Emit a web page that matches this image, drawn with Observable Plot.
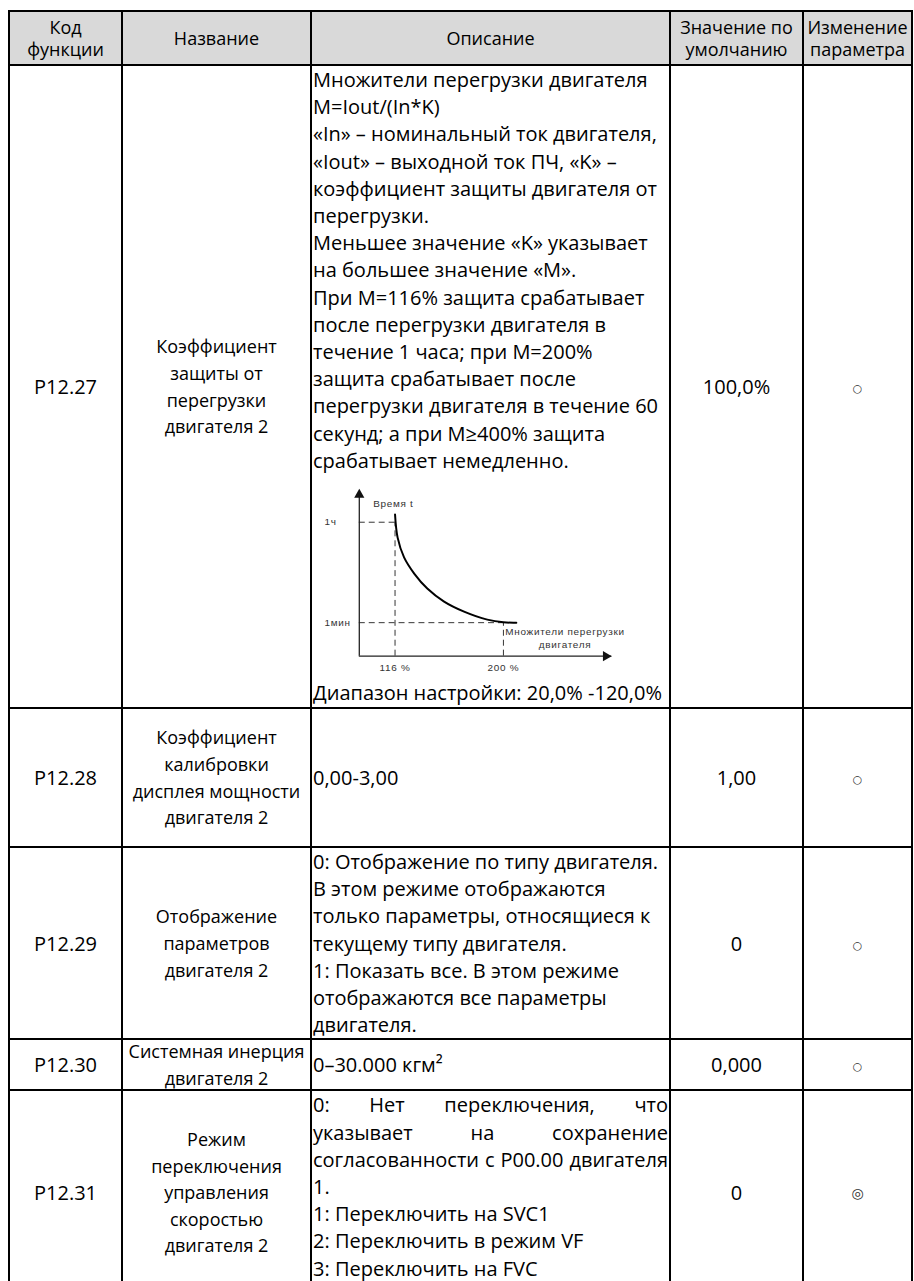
<!DOCTYPE html>
<html lang="ru"><head><meta charset="utf-8">
<script src="https://cdn.jsdelivr.net/npm/d3@7"></script>
<script src="https://cdn.jsdelivr.net/npm/@observablehq/plot@0.6"></script>
<style>
html,body{margin:0;padding:0;background:#fff;}
body{width:914px;height:1281px;overflow:hidden;position:relative;font-family:"Open Sans",sans-serif;color:#000;}
table{position:absolute;left:8px;top:10px;border-collapse:collapse;table-layout:fixed;width:905px;}
td,th{border:2px solid #000;padding:0;font-size:20px;font-weight:400;overflow:visible;}
th{background:#d9d9d9;font-size:18px;line-height:22px;text-align:center;vertical-align:middle;}
td{line-height:27.2px;}
td.code,td.def,td.chg{text-align:center;vertical-align:middle;}
td.name{text-align:center;vertical-align:middle;font-size:18px;line-height:26.6px;white-space:nowrap;}
td.name .tight{margin:-3px 0;}
td.desc{text-align:left;vertical-align:top;padding-left:1px;padding-right:1px;}
td.desc.mid{vertical-align:middle;}
.line{white-space:nowrap;}
.just{text-align:justify;text-align-last:justify;white-space:normal;}
.sym{font-family:"DejaVu Sans",sans-serif;color:#333;}
</style></head><body>
<table id="t"></table>
<script>
// ---- table content ----
const headers = [["Код", "функции"], ["Название"], ["Описание"], ["Значение по", "умолчанию"], ["Изменение", "параметра"]];
const codes = ["P12.27", "P12.28", "P12.29", "P12.30", "P12.31"];
const names = [
  ["Коэффициент", "защиты от", "перегрузки", "двигателя 2"],
  ["Коэффициент", "калибровки", "дисплея мощности", "двигателя 2"],
  ["Отображение", "параметров", "двигателя 2"],
  ["Системная инерция", "двигателя 2"],
  ["Режим", "переключения", "управления", "скоростью", "двигателя 2"]
];
const CHART = "__chart__";
const descriptions = [
  ["Множители перегрузки двигателя", "M=Iout/(In*K)", "«In» – номинальный ток двигателя,", "«Iout» – выходной ток ПЧ, «K» –",
   "коэффициент защиты двигателя от", "перегрузки.", "Меньшее значение «K» указывает", "на большее значение «M».",
   "При M=116% защита срабатывает", "после перегрузки двигателя в", "течение 1 часа; при M=200%", "защита срабатывает после",
   "перегрузки двигателя в течение 60", "секунд; а при M≥400% защита", "срабатывает немедленно.", CHART,
   "Диапазон настройки: 20,0% -120,0%"],
  ["0,00-3,00"],
  ["0: Отображение по типу двигателя.", "В этом режиме отображаются", "только параметры, относящиеся к",
   "текущему типу двигателя.", "1: Показать все. В этом режиме", "отображаются все параметры", "двигателя."],
  ["0–30.000 кгм²"],
  ["0: Нет переключения, что", "указывает на сохранение", "согласованности с P00.00 двигателя", "1.",
   "1: Переключить на SVC1", "2: Переключить в режим VF", "3: Переключить на FVC"]
];
const defaults = ["100,0%", "1,00", "0", "0,000", "0"];
const changes = ["○", "○", "○", "○", "◎"];

// ---- embedded chart values ----
const curveMultiplier = [116, 118, 123, 131, 141, 154, 169.5, 187.5, 200, 210];
const curveTime = [4.23, 3.54, 2.95, 2.46, 2.02, 1.63, 1.33, 1.09, 1.01, 1.0];
const markerMultiplier = [116, 200];
const markerTime = [4, 1];
const markerMultLabels = ["116 %", "200 %"];
const markerTimeLabels = ["1ч", "1мин"];
const axisTitleY = "Время t";
const axisTitleX = "Множители перегрузки\nдвигателя";

// ---- layout ----
const colWidths = [113, 189, 359, 133, 109];
const rowHeights = [54, 643, 139, 190, 51, 204];
const descMiddle = [false, true, false, true, false];
const justifiedLines = {4: [0, 1, 2]};

function overloadChart() {
  const X0 = 88.3, XEND = 284, YTOP = 5;
  const pts = curveMultiplier.map((m, i) => ({m, t: curveTime[i]}));
  const mk = markerMultiplier.map((m, i) => ({m, t: markerTime[i], ml: markerMultLabels[i], tl: markerTimeLabels[i]}));
  const dash = {stroke: "#333", strokeWidth: 1, strokeDasharray: "6,4"};
  return Plot.plot({
    width: 357, height: 205, margin: 0,
    x: {domain: [116, 200], range: [82, 191], axis: null},
    y: {domain: [1, 4], range: [149, 48], axis: null},
    style: {fontFamily: '"Liberation Sans", Arial, sans-serif', fontSize: "10px", color: "#333",
            background: "transparent", overflow: "visible", letterSpacing: "0.7px"},
    marks: [
      Plot.ruleY(mk, {y: "t", x1: () => X0, x2: "m", ...dash}),
      Plot.ruleX(mk, {x: "m", y1: () => 0, y2: "t", ...dash}),
      Plot.ruleY([0], {x1: () => X0, x2: () => XEND, stroke: "#222", strokeWidth: 1.3}),
      Plot.ruleX([X0], {y1: () => 0, y2: () => YTOP - 0.15, stroke: "#222", strokeWidth: 1.3}),
      Plot.dot([[X0, YTOP]], {x: d => d[0], y: d => d[1], symbol: "triangle", r: 3.8, dy: 6, fill: "#111", stroke: null}),
      Plot.dot([[XEND, 0]], {x: d => d[0], y: d => d[1], symbol: "triangle", r: 3.8, rotate: 90, dx: -6, fill: "#111", stroke: null}),
      Plot.line(pts, {x: "m", y: "t", curve: "catmull-rom", stroke: "#000", strokeWidth: 2}),
      Plot.text(mk, {x: () => X0, y: "t", text: "tl", dx: -35, textAnchor: "start"}),
      Plot.text(mk, {x: "m", y: () => 0, text: "ml", dy: 12}),
      Plot.text([axisTitleY], {x: () => X0, y: () => YTOP, text: d => d, dx: 14, dy: 15, textAnchor: "start"}),
      Plot.text([axisTitleX], {x: () => markerMultiplier[1], y: () => markerTime[1], text: d => d, dx: 62, dy: 15, lineHeight: 1.3})
    ]
  });
}

const t = document.getElementById("t");
const cg = document.createElement("colgroup");
colWidths.forEach(w => { const c = document.createElement("col"); c.style.width = w + "px"; cg.appendChild(c); });
t.appendChild(cg);

const hr = document.createElement("tr");
hr.style.height = rowHeights[0] + "px";
headers.forEach(h => { const th = document.createElement("th"); th.innerHTML = h.join("<br>"); hr.appendChild(th); });
t.appendChild(hr);

codes.forEach((code, i) => {
  const tr = document.createElement("tr");
  tr.style.height = rowHeights[i + 1] + "px";
  const c1 = document.createElement("td"); c1.className = "code"; c1.textContent = code;
  const c2 = document.createElement("td"); c2.className = "name";
  const nd = document.createElement("div");
  if (names[i].length === 2) nd.className = "tight";
  nd.innerHTML = names[i].join("<br>");
  c2.appendChild(nd);
  const c3 = document.createElement("td"); c3.className = "desc" + (descMiddle[i] ? " mid" : "");
  descriptions[i].forEach((ln, j) => {
    const d = document.createElement("div");
    if (ln === CHART) { d.style.height = "205px"; d.appendChild(overloadChart()); }
    else {
      const just = (justifiedLines[i] || []).includes(j);
      d.className = just ? "just" : "line";
      d.textContent = ln;
    }
    c3.appendChild(d);
  });
  const c4 = document.createElement("td"); c4.className = "def"; c4.textContent = defaults[i];
  const c5 = document.createElement("td"); c5.className = "chg";
  const s = document.createElement("span"); s.className = "sym"; s.textContent = changes[i];
  s.style.fontSize = changes[i] === "◎" ? "14px" : "11px";
  c5.appendChild(s);
  [c1, c2, c3, c4, c5].forEach(c => tr.appendChild(c));
  t.appendChild(tr);
});
</script>
</body></html>
